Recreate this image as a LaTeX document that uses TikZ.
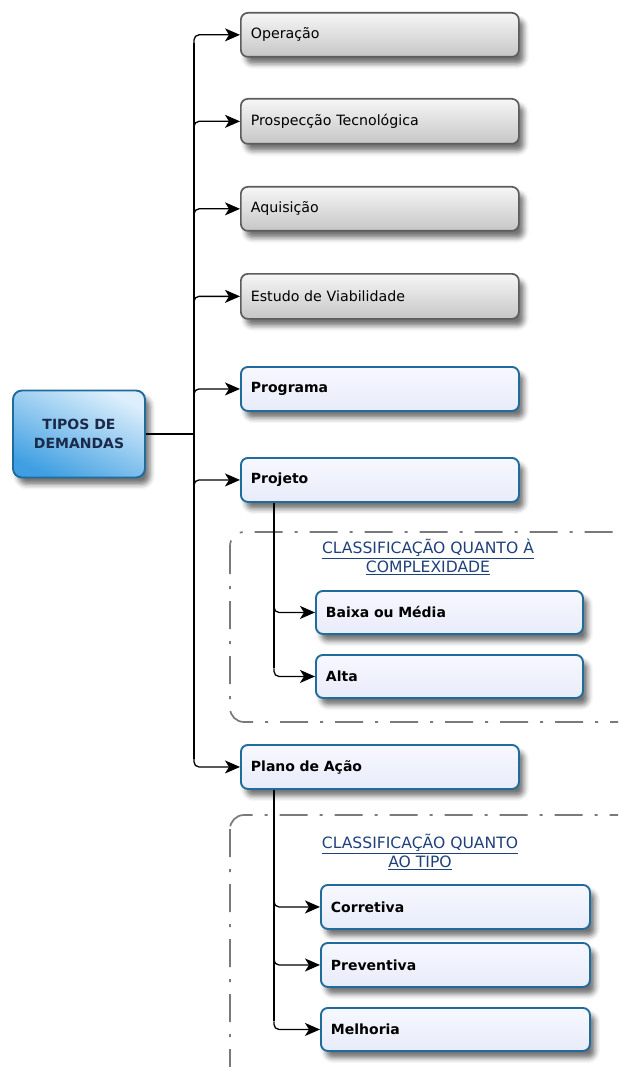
\documentclass[tikz,border=0pt]{standalone}
\usepackage{fontspec}
\setmainfont{DejaVu Sans}
\usetikzlibrary{arrows.meta,shadows.blur}
\definecolor{blueline}{HTML}{1F6B9C}
\definecolor{grayline}{HTML}{5C5C5C}
\definecolor{bluefillA}{HTML}{F7F8FE}
\definecolor{bluefillB}{HTML}{E8ECFA}
\definecolor{grayA}{HTML}{F6F6F6}
\definecolor{grayB}{HTML}{C6C6C6}
\definecolor{rootA}{HTML}{DDEFFC}
\definecolor{rootB}{HTML}{3F9FE2}
\definecolor{titleblue}{HTML}{20407A}
\definecolor{navy}{HTML}{1B2A48}
\definecolor{grpline}{HTML}{7A7A7A}
\begin{document}
\begin{tikzpicture}[x=1pt,y=-1pt,
  shad/.style={blur shadow={shadow xshift=5pt, shadow yshift=-7pt, shadow blur radius=5pt, shadow opacity=55}},
  basebox/.style={shad, rounded corners=7pt, minimum height=44pt, inner xsep=10pt,
    align=left, anchor=north west, font=\fontsize{14.2pt}{17pt}\selectfont},
  gbox/.style={basebox, draw=grayline, line width=1.7pt, top color=grayA, bottom color=grayB, text width=258pt},
  bbox/.style={basebox, draw=blueline, line width=1.9pt, top color=bluefillA, bottom color=bluefillB,
    text width=258pt, font=\fontsize{14pt}{17pt}\selectfont\bfseries},
  sbox/.style={bbox, text width=#1},
  conn/.style={draw=black, line width=1.3pt},
  arr/.style={conn, rounded corners=5pt, -{Stealth[length=15pt,width=13pt,inset=4pt]}},
  grp/.style={draw=grpline, line width=1.7pt, rounded corners=14pt, dash pattern=on 28pt off 12pt on 3pt off 12pt},
  ttl/.style={align=center, text=titleblue, font=\fontsize{15.6pt}{19.5pt}\selectfont}
]
\useasboundingbox (0,0) rectangle (618,1067);
\clip (0,0) rectangle (618,1067);

% groups
\draw[grp] (230,532) rectangle (660,722);
\draw[grp] (230,815) rectangle (660,1100);

% root
\node[shad, draw=blueline, line width=1.9pt, rounded corners=9pt, top color=rootA, bottom color=rootB,
  shading angle=-25, minimum width=132pt, minimum height=87pt, align=center, text=navy,
  font=\fontsize{14pt}{19pt}\selectfont\bfseries] (root) at (79,434) {TIPOS DE\\DEMANDAS};

% main boxes
\node[gbox] (op) at (240,12) {Operação};
\node[gbox, minimum height=45pt] (pt) at (240,98) {Prospecção Tecnológica};
\node[gbox] (aq) at (240,186) {Aquisição};
\node[gbox, minimum height=45pt] (ev) at (240,273) {Estudo de Viabilidade};
\node[bbox] (pg) at (240,366) {Programa};
\node[bbox] (pj) at (240,457) {Projeto};
\node[bbox] (pa) at (240,744) {Plano de Ação};

% sub boxes
\node[sbox=247pt, minimum height=43pt] (bm) at (315,590) {Baixa ou Média};
\node[sbox=247pt, minimum height=43pt] (al) at (315,654) {Alta};
\node[sbox=249pt] (co) at (320,884) {Corretiva};
\node[sbox=249pt] (pr) at (320,942) {Preventiva};
\node[sbox=249pt, minimum height=43pt] (me) at (320,1007) {Melhoria};

% titles
\node[ttl] (t1) at (428,557) {\underline{CLASSIFICAÇÃO QUANTO À}\\\underline{COMPLEXIDADE}};
\node[ttl] (t2) at (420,852) {\underline{CLASSIFICAÇÃO QUANTO}\\\underline{AO TIPO}};

% trunk
\coordinate (tr) at (194,0);
\coordinate (st) at (274,0);
\draw[conn] ([yshift=-8pt]op.west -| tr) -- ([yshift=8pt]pa.west -| tr);
\draw[conn] (root.east) -- (root.east -| tr);
\foreach \n in {op,pt,aq,ev,pg,pj}{
  \draw[arr] ([yshift=-8pt]\n.west -| tr) |- (\n.west);
}
\draw[arr] ([yshift=8pt]pa.west -| tr) |- (pa.west);

% sub trunks
\draw[conn] (pj.south -| st) -- ([yshift=8pt]al.west -| st);
\draw[arr] ([yshift=8pt]bm.west -| st) |- (bm.west);
\draw[arr] ([yshift=8pt]al.west -| st) |- (al.west);

\draw[conn] (pa.south -| st) -- ([yshift=8pt]me.west -| st);
\draw[arr] ([yshift=8pt]co.west -| st) |- (co.west);
\draw[arr] ([yshift=8pt]pr.west -| st) |- (pr.west);
\draw[arr] ([yshift=8pt]me.west -| st) |- (me.west);
\end{tikzpicture}
\end{document}
